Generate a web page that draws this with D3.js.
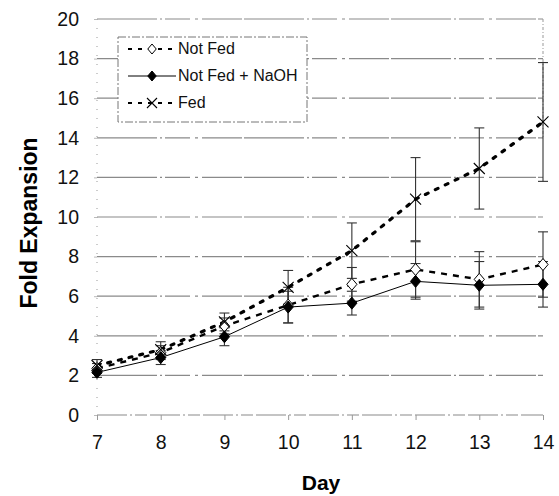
<!DOCTYPE html>
<html>
<head>
<meta charset="utf-8">
<script src="https://cdn.jsdelivr.net/npm/d3@7/dist/d3.min.js"></script>
<style>
  html, body { margin: 0; padding: 0; background: #fff; }
  svg { display: block; font-family: "Liberation Sans", Arial, sans-serif; }
</style>
</head>
<body>
<svg id="chart" width="559" height="496"></svg>
<script>
// Culture days and fold-expansion means / error half-widths
const days = [7, 8, 9, 10, 11, 12, 13, 14];
const notFed = [2.35, 3.15, 4.5, 5.55, 6.6, 7.35, 6.85, 7.6];
const notFedErr = [0.25, 0.35, 0.4, 0.9, 0.85, 1.4, 1.4, 1.65];
const notFedNaOH = [2.15, 2.9, 3.95, 5.45, 5.65, 6.75, 6.55, 6.6];
const notFedNaOHErr = [0.25, 0.35, 0.45, 0.8, 0.6, 0.9, 1.2, 1.15];
const fed = [2.5, 3.3, 4.7, 6.45, 8.3, 10.9, 12.45, 14.8];
const fedErr = [0.3, 0.4, 0.45, 0.85, 1.4, 2.1, 2.05, 3.0];
const yTicks = [0, 2, 4, 6, 8, 10, 12, 14, 16, 18, 20];
const seriesNames = ["Not Fed", "Not Fed + NaOH", "Fed"];

const svg = d3.select("#chart");
const x = d3.scaleLinear().domain([7, 14]).range([97, 543]);
const y = d3.scaleLinear().domain([0, 20]).range([415, 19]);

// Horizontal gridlines in faded grey
const gridDash = "60,3,2,3,25,5,3,4,40,2";
svg.append("g").selectAll("line").data(yTicks.filter(d => d > 0)).join("line")
  .attr("x1", x(7)).attr("x2", x(14))
  .attr("y1", d => y(d)).attr("y2", d => y(d))
  .attr("stroke", "#8a8a8a").attr("stroke-width", 1.2)
  .attr("stroke-dasharray", gridDash);

// Plot frame: dotted left/right edges, dash-dot baseline
svg.append("line").attr("x1", x(7)).attr("x2", x(7)).attr("y1", y(20)).attr("y2", y(0))
  .attr("stroke", "#999").attr("stroke-width", 1).attr("stroke-dasharray", "1,8");
svg.append("line").attr("x1", x(14)).attr("x2", x(14)).attr("y1", y(20)).attr("y2", y(14))
  .attr("stroke", "#999").attr("stroke-width", 1).attr("stroke-dasharray", "3,2,1,2");
svg.append("line").attr("x1", x(7)).attr("x2", x(14)).attr("y1", y(0)).attr("y2", y(0))
  .attr("stroke", "#8a8a8a").attr("stroke-width", 1.2).attr("stroke-dasharray", "30,3,2,3,12,3");

// Axes (text only; tick marks are faint)
const yAxis = d3.axisLeft(y).tickValues(yTicks).tickSize(3).tickPadding(15);
const gy = svg.append("g").attr("transform", `translate(${x(7)},0)`).call(yAxis);
gy.select(".domain").remove();
gy.selectAll("line").attr("stroke", "#bbb");
gy.selectAll("text").attr("font-size", 19.5).attr("fill", "#111");

const xAxis = d3.axisBottom(x).tickValues(days).tickFormat(d3.format("d")).tickSize(5).tickPadding(15);
const gx = svg.append("g").attr("transform", `translate(0,${y(0)})`).call(xAxis);
gx.select(".domain").remove();
gx.selectAll("line").attr("stroke", "#999");
gx.selectAll("text").attr("font-size", 19.5).attr("fill", "#111");

// Axis titles
svg.append("text").attr("x", 321).attr("y", 490)
  .attr("text-anchor", "middle").attr("font-size", 21).attr("font-weight", "bold").text("Day");
svg.append("text").attr("transform", `translate(37,223) rotate(-90)`)
  .attr("text-anchor", "middle").attr("font-size", 23).attr("font-weight", "bold").text("Fold Expansion");

const series = [
  { name: seriesNames[0], vals: notFed, err: notFedErr, dash: "6,6", width: 2.4, marker: "diamondOpen" },
  { name: seriesNames[1], vals: notFedNaOH, err: notFedNaOHErr, dash: null, width: 1, marker: "diamondFilled" },
  { name: seriesNames[2], vals: fed, err: fedErr, dash: "3,8", width: 3.2, marker: "cross" }
];

// Error bars
const eb = svg.append("g").attr("stroke", "#333").attr("stroke-width", 1.1);
series.forEach(s => {
  days.forEach((d, i) => {
    const cx = x(d), lo = y(s.vals[i] - s.err[i]), hi = y(s.vals[i] + s.err[i]);
    eb.append("line").attr("x1", cx).attr("x2", cx).attr("y1", lo).attr("y2", hi);
    eb.append("line").attr("x1", cx - 5).attr("x2", cx + 5).attr("y1", lo).attr("y2", lo);
    eb.append("line").attr("x1", cx - 5).attr("x2", cx + 5).attr("y1", hi).attr("y2", hi);
  });
});

// Lines
const line = d3.line().x((d, i) => x(days[i])).y(d => y(d));
series.forEach(s => {
  svg.append("path").datum(s.vals).attr("d", line)
    .attr("fill", "none").attr("stroke", "#000")
    .attr("stroke-width", s.width)
    .attr("stroke-linecap", s.marker === "cross" ? "round" : "butt")
    .attr("stroke-dasharray", s.dash);
});

function drawMarker(g, type, cx, cy, r) {
  if (type === "cross") {
    g.append("path").attr("d", `M${cx - r},${cy - r}L${cx + r},${cy + r}M${cx - r},${cy + r}L${cx + r},${cy - r}`)
      .attr("stroke", "#000").attr("stroke-width", 1.1).attr("fill", "none");
  } else {
    g.append("path").attr("d", `M${cx},${cy - r}L${cx + r * 0.85},${cy}L${cx},${cy + r}L${cx - r * 0.85},${cy}Z`)
      .attr("fill", type === "diamondFilled" ? "#000" : "#fff")
      .attr("stroke", "#000").attr("stroke-width", 1);
  }
}

// Markers
const mk = svg.append("g");
series.forEach(s => {
  const r = s.marker === "cross" ? 5.5 : 6;
  days.forEach((d, i) => drawMarker(mk, s.marker, x(d), y(s.vals[i]), r));
});

// Legend
const lg = svg.append("g");
lg.append("rect").attr("x", 118).attr("y", 37).attr("width", 189).attr("height", 85)
  .attr("fill", "#fff").attr("stroke", "#777").attr("stroke-width", 1).attr("stroke-dasharray", "8,2,2,2");
const legendY = [49, 76, 103];
series.forEach((s, i) => {
  const ly = legendY[i];
  lg.append("line").attr("x1", 128).attr("x2", 176).attr("y1", ly).attr("y2", ly)
    .attr("stroke", "#000").attr("stroke-width", s.marker === "diamondFilled" ? 1 : 2.2)
    .attr("stroke-dasharray", s.marker === "diamondFilled" ? null : "4,6");
  drawMarker(lg, s.marker, 152, ly, 5);
  lg.append("text").attr("x", 178).attr("y", ly + 5).attr("font-size", 16).attr("fill", "#111").text(s.name);
});
</script>
</body>
</html>
